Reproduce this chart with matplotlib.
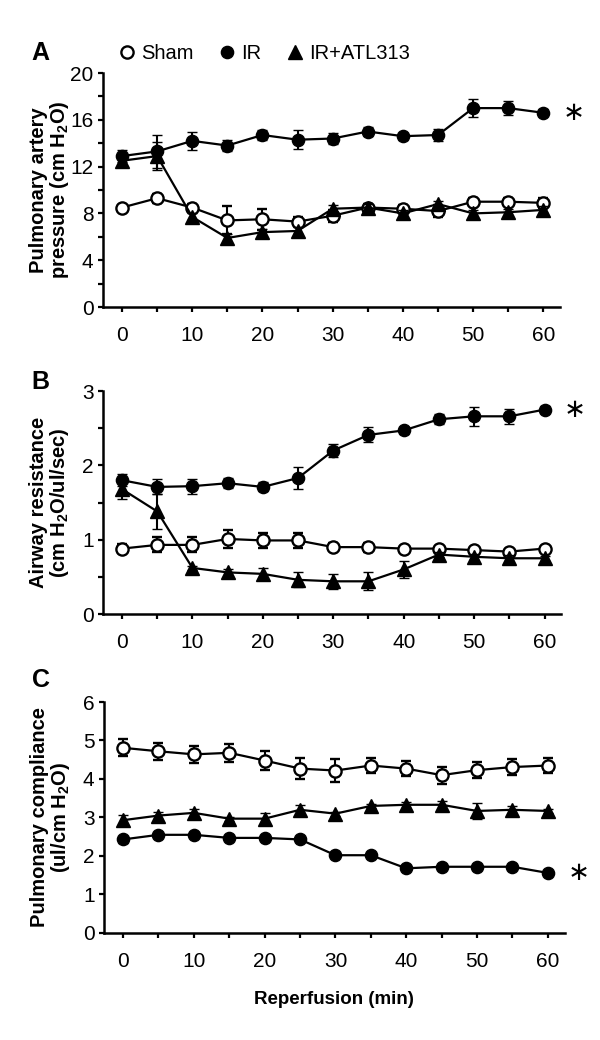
import numpy as np
import matplotlib
matplotlib.use('Agg')
import matplotlib.pyplot as pl
from matplotlib.lines import Line2D

pl.rcParams['font.family'] = ['Liberation Sans', 'DejaVu Sans']
pl.rcParams['mathtext.fontset'] = 'custom'
pl.rcParams['mathtext.rm'] = 'Liberation Sans'
pl.rcParams['mathtext.bf'] = 'Liberation Sans:bold'

# reperfusion time (min)
times = [0, 5, 10, 15, 20, 25, 30, 35, 40, 45, 50, 55, 60]

# A - pulmonary artery pressure
pap_sham = [8.5, 9.3, 8.5, 7.4, 7.5, 7.3, 7.8, 8.5, 8.4, 8.2, 9.0, 9.0, 8.9]
pap_sham_err = [0.2, 0.4, 0.3, 1.2, 0.9, 0.4, 0.5, 0.3, 0.3, 0.5, 0.3, 0.3, 0.4]
pap_ir = [12.9, 13.3, 14.2, 13.8, 14.7, 14.3, 14.4, 15.0, 14.6, 14.7, 17.0, 17.0, 16.6]
pap_ir_err = [0.5, 1.4, 0.8, 0.5, 0.4, 0.8, 0.5, 0.4, 0.3, 0.5, 0.8, 0.6, 0.3]
pap_atl = [12.5, 12.9, 7.7, 5.9, 6.4, 6.5, 8.4, 8.5, 8.0, 8.8, 8.0, 8.1, 8.3]
pap_atl_err = [0.4, 1.2, 0.3, 0.3, 0.3, 0.3, 0.3, 0.3, 0.3, 0.3, 0.3, 0.3, 0.3]

# B - airway resistance
raw_sham = [0.88, 0.93, 0.93, 1.01, 0.99, 0.99, 0.90, 0.90, 0.88, 0.88, 0.86, 0.84, 0.88]
raw_sham_err = [0.06, 0.1, 0.1, 0.12, 0.1, 0.1, 0.05, 0.06, 0.04, 0.04, 0.04, 0.04, 0.04]
raw_ir = [1.80, 1.71, 1.72, 1.76, 1.71, 1.83, 2.20, 2.41, 2.47, 2.62, 2.66, 2.66, 2.75]
raw_ir_err = [0.08, 0.1, 0.1, 0.07, 0.06, 0.15, 0.09, 0.1, 0.05, 0.07, 0.13, 0.1, 0.05]
raw_atl = [1.68, 1.38, 0.62, 0.56, 0.54, 0.46, 0.44, 0.44, 0.60, 0.80, 0.77, 0.75, 0.75]
raw_atl_err = [0.13, 0.23, 0.03, 0.05, 0.08, 0.1, 0.1, 0.12, 0.12, 0.03, 0.04, 0.04, 0.03]

# C - pulmonary compliance
comp_sham = [4.81, 4.72, 4.64, 4.68, 4.48, 4.27, 4.22, 4.35, 4.27, 4.10, 4.23, 4.31, 4.35]
comp_sham_err = [0.22, 0.22, 0.22, 0.24, 0.24, 0.27, 0.3, 0.2, 0.2, 0.22, 0.2, 0.2, 0.2]
comp_ir = [2.43, 2.55, 2.55, 2.47, 2.47, 2.43, 2.02, 2.02, 1.68, 1.72, 1.72, 1.72, 1.56]
comp_ir_err = [0.08, 0.05, 0.08, 0.04, 0.04, 0.07, 0.05, 0.06, 0.05, 0.06, 0.08, 0.07, 0.04]
comp_atl = [2.93, 3.05, 3.12, 2.97, 2.97, 3.20, 3.10, 3.30, 3.33, 3.33, 3.17, 3.20, 3.17]
comp_atl_err = [0.13, 0.08, 0.1, 0.05, 0.15, 0.12, 0.05, 0.06, 0.08, 0.1, 0.2, 0.1, 0.05]

group_names = ['Sham', 'IR', 'IR+ATL313']
panel_letters = ['A', 'B', 'C']
ylabels = ['Pulmonary artery\npressure (cm H$_\\mathbf{2}$O)',
           'Airway resistance\n(cm H$_\\mathbf{2}$O/ul/sec)',
           'Pulmonary compliance\n(ul/cm H$_\\mathbf{2}$O)']
xlabel = 'Reperfusion (min)'

fig = pl.figure(figsize=(6, 10.4), dpi=100)

# axes rectangles in figure fractions (left, bottom, width, height)
rects = [(0.1717, 0.7048, 0.762, 0.225),
         (0.1717, 0.4096, 0.764, 0.2144),
         (0.1733, 0.1029, 0.768, 0.2221)]
ylims = [(0, 20), (0, 3), (0, 6)]
ymajor = [np.arange(0, 21, 4), np.arange(0, 3.1, 1), np.arange(0, 6.1, 1)]
yminor = [np.arange(0, 21, 2), np.arange(0, 3.1, 0.5), np.arange(0, 6.1, 1)]
letter_y = [53, 382, 680]

data = [(pap_sham, pap_sham_err, pap_ir, pap_ir_err, pap_atl, pap_atl_err),
        (raw_sham, raw_sham_err, raw_ir, raw_ir_err, raw_atl, raw_atl_err),
        (comp_sham, comp_sham_err, comp_ir, comp_ir_err, comp_atl, comp_atl_err)]

styles = [dict(marker='o', mfc='white', mec='black', ms=8.8, mew=1.7),
          dict(marker='o', mfc='black', mec='black', ms=8.8, mew=1.0),
          dict(marker='^', mfc='black', mec='black', ms=9.5, mew=1.0)]

for p in range(3):
    ax = fig.add_axes(rects[p])
    sham, sham_e, ir, ir_e, atl, atl_e = data[p]
    series = [(sham, sham_e), (ir, ir_e), (atl, atl_e)]
    for g, (vals, errs) in enumerate(series):
        ax.errorbar(times, vals, yerr=errs, color='black', linewidth=1.6,
                    elinewidth=1.5, capsize=3.5, capthick=1.5,
                    zorder=3 + g, **styles[g])
    ax.set_xlim(-2.7, 62.4)
    ax.set_ylim(*ylims[p])
    ax.set_xticks(np.arange(0, 61, 10))
    ax.set_xticks(np.arange(0, 61, 5), minor=True)
    ax.set_yticks(ymajor[p])
    ax.set_yticks(yminor[p], minor=True)
    ax.set_yticklabels(['%g' % v for v in ymajor[p]])
    ax.spines['top'].set_visible(False)
    ax.spines['right'].set_visible(False)
    ax.spines['left'].set_linewidth(1.8)
    ax.spines['bottom'].set_linewidth(1.8)
    ax.tick_params(axis='both', which='both', direction='out', length=3.8,
                   width=1.6, labelsize=15)
    ax.tick_params(axis='x', which='both', pad=10)
    ax.tick_params(axis='y', which='both', pad=3)
    ax.set_ylabel(ylabels[p], fontsize=14.5, fontweight='bold',
                  linespacing=1.0)
    ax.yaxis.set_label_coords(-0.07, 0.5)
    # significance mark next to the IR series
    ax.text(1.03, ir[-1], '\u2217', transform=ax.get_yaxis_transform(),
            fontsize=19, family='DejaVu Sans', ha='center', va='center')
    fig.text(0.053, 1 - letter_y[p] / 1040.0, panel_letters[p],
             fontsize=18, fontweight='bold', ha='left', va='center')
    if p == 2:
        ax.set_xlabel(xlabel, fontsize=13.5, fontweight='bold', labelpad=14)
    if p == 0:
        handles = [Line2D([], [], linestyle='none', **styles[g]) for g in range(3)]
        ax.legend(handles, group_names, loc='center left', ncol=3,
                  bbox_to_anchor=(0.02, 1.085), frameon=False, fontsize=14.5,
                  handlelength=0.7, handletextpad=0.35, columnspacing=1.3,
                  borderaxespad=0)

fig.savefig('out.png', dpi=100)
